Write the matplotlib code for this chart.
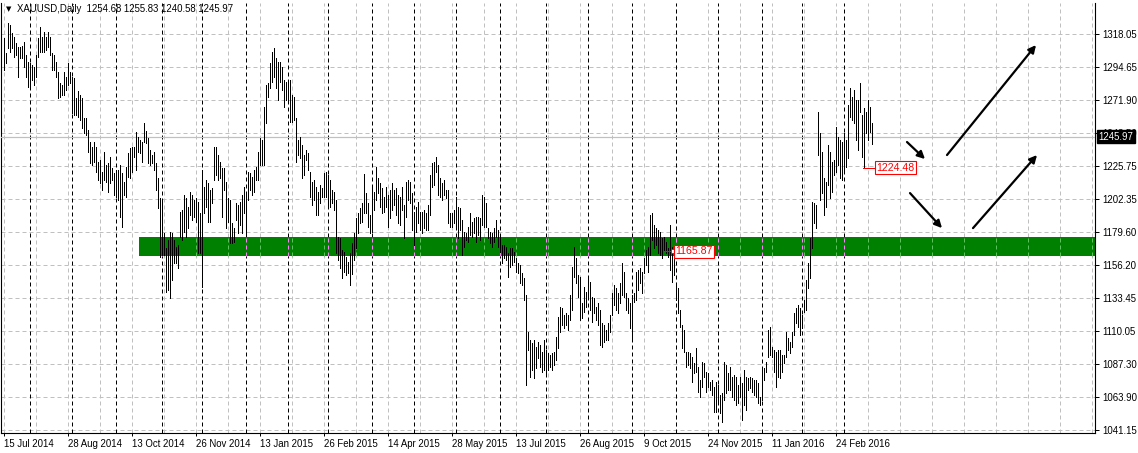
import matplotlib
matplotlib.use("Agg")
import matplotlib.pyplot as plt
import matplotlib.transforms as mtransforms
import numpy as np
import pandas as pd

# ---- dados (XAUUSD diário) ----
tick_labels = ["15 Jul 2014", "28 Aug 2014", "13 Oct 2014", "26 Nov 2014", "13 Jan 2015",
               "26 Feb 2015", "14 Apr 2015", "28 May 2015", "13 Jul 2015", "26 Aug 2015",
               "9 Oct 2015", "24 Nov 2015", "11 Jan 2016", "24 Feb 2016"]
price_ticks = [1318.05, 1294.65, 1271.90, 1248.50, 1225.75, 1202.35, 1179.60,
               1156.20, 1133.45, 1110.05, 1087.30, 1063.90, 1041.15]
holidays = ["2014-12-25", "2015-01-01", "2015-04-03", "2015-12-25", "2016-01-01"]

highs = [
    1314.8, 1304.3, 1325.3, 1324.1, 1318.3, 1316.0, 1311.3, 1309.0, 1309.0, 1309.7,
    1312.5, 1303.1, 1298.5, 1297.3, 1296.1, 1295.0, 1303.1, 1314.8, 1322.9, 1316.0,
    1319.4, 1316.0, 1319.4, 1316.0, 1304.3, 1303.1, 1298.5, 1291.5, 1283.3, 1282.1,
    1291.5, 1288.0, 1297.3, 1291.5, 1288.0, 1286.8, 1272.8, 1278.0, 1275.1, 1272.8,
    1258.8, 1258.8, 1250.7, 1242.5, 1239.0, 1242.5, 1239.0, 1228.5, 1229.7, 1221.5,
    1235.5, 1226.2, 1227.4, 1232.0, 1223.9, 1220.4, 1222.7, 1222.7, 1226.2, 1220.4,
    1214.6, 1225.0, 1234.4, 1237.9, 1239.0, 1239.0, 1249.5, 1246.0, 1243.7, 1242.5,
    1255.3, 1250.0, 1244.9, 1236.7, 1233.2, 1235.5, 1227.4, 1216.9, 1202.9, 1201.7,
    1178.4, 1167.9, 1173.8, 1179.6, 1178.4, 1173.8, 1169.1, 1170.3, 1193.6, 1194.8,
    1205.3, 1202.9, 1197.1, 1207.6, 1205.3, 1201.8, 1202.9, 1200.6, 1192.4, 1222.7,
    1211.1, 1215.7, 1213.4, 1208.8, 1209.9, 1239.1, 1239.1, 1233.2, 1228.6, 1223.9,
    1223.9, 1214.6, 1202.9, 1201.8, 1185.4, 1181.9, 1199.4, 1198.3, 1200.6, 1205.3,
    1211.1, 1207.6, 1221.6, 1220.4, 1218.1, 1222.7, 1225.1, 1235.6, 1244.9, 1243.7,
    1267.0, 1282.2, 1283.3, 1297.3, 1305.5, 1307.8, 1300.8, 1298.5, 1298.5, 1295.0,
    1285.7, 1284.5, 1285.7, 1285.7, 1275.2, 1274.0, 1258.9, 1243.7, 1246.1, 1240.2,
    1233.2, 1236.7, 1234.4, 1221.6, 1214.6, 1215.7, 1211.1, 1207.6, 1212.3, 1209.9,
    1220.4, 1221.6, 1219.2, 1215.7, 1208.8, 1207.6, 1201.8, 1176.1, 1174.9, 1166.8,
    1165.6, 1162.1, 1158.6, 1164.5, 1172.0, 1178.5, 1188.9, 1192.4, 1195.9, 1199.4,
    1219.7, 1206.4, 1199.4, 1191.3, 1211.1, 1207.6, 1225.1, 1216.9, 1213.4, 1209.9,
    1204.1, 1211.1, 1205.3, 1208.8, 1213.4, 1208.8, 1209.9, 1205.3, 1204.1, 1211.1,
    1198.3, 1214.6, 1215.8, 1214.6, 1206.4, 1193.6, 1197.1, 1200.6, 1193.6, 1193.6,
    1194.8, 1192.4, 1198.3, 1219.3, 1227.4, 1228.6, 1232.1, 1226.2, 1216.9, 1213.4,
    1215.8, 1208.8, 1208.8, 1192.4, 1192.4, 1194.8, 1204.1, 1197.1, 1195.9, 1187.8,
    1179.6, 1178.5, 1183.1, 1192.4, 1186.6, 1189.0, 1190.1, 1190.1, 1189.0, 1205.3,
    1204.1, 1199.4, 1182.0, 1179.6, 1178.5, 1182.0, 1187.8, 1180.8, 1177.3, 1170.3,
    1170.3, 1169.1, 1164.5, 1168.0, 1168.0, 1165.6, 1161.0, 1157.5, 1156.3, 1150.5,
    1147.0, 1135.3, 1109.7, 1103.9, 1101.5, 1103.9, 1099.2, 1102.7, 1100.4, 1095.7,
    1103.9, 1096.9, 1094.5, 1093.4, 1094.5, 1095.7, 1106.2, 1120.2, 1127.2, 1126.0,
    1121.3, 1122.5, 1121.3, 1135.3, 1155.2, 1169.1, 1161.0, 1149.3, 1148.2, 1129.5,
    1141.2, 1137.7, 1148.2, 1144.7, 1134.2, 1133.0, 1127.2, 1129.5, 1124.8, 1115.5,
    1114.4, 1110.9, 1115.5, 1121.3, 1136.5, 1142.3, 1140.0, 1136.5, 1143.5, 1157.5,
    1151.7, 1136.5, 1133.0, 1129.5, 1135.3, 1136.5, 1151.7, 1152.8, 1154.0, 1151.7,
    1161.0, 1166.8, 1169.1, 1191.3, 1192.4, 1184.3, 1182.0, 1180.8, 1179.6, 1175.0,
    1176.1, 1172.6, 1168.0, 1184.3, 1169.1, 1163.3, 1143.5, 1140.0, 1124.8, 1114.4,
    1110.9, 1095.7, 1095.7, 1094.5, 1092.2, 1087.5, 1098.0, 1085.2, 1075.9, 1088.7,
    1087.5, 1081.7, 1080.5, 1074.7, 1075.9, 1071.2, 1074.7, 1072.4, 1065.4, 1066.6,
    1088.7, 1086.4, 1080.5, 1085.2, 1078.2, 1079.4, 1078.2, 1072.4, 1078.2, 1073.5,
    1082.9, 1078.2, 1077.1, 1078.2, 1077.1, 1075.9, 1075.9, 1073.5, 1064.2, 1084.0,
    1084.0, 1088.7, 1110.8, 1113.2, 1099.2, 1096.9, 1095.7, 1096.9, 1096.9, 1093.4,
    1093.4, 1109.7, 1105.0, 1102.7, 1109.7, 1122.5, 1126.0, 1128.3, 1126.0, 1121.3,
    1131.8, 1145.8, 1157.5, 1175.0, 1200.6, 1199.4, 1198.3, 1263.5, 1248.4, 1235.6,
    1216.9, 1214.6, 1240.2, 1235.6, 1228.6, 1229.8, 1253.0, 1246.0, 1243.7, 1242.5,
    1248.4, 1243.7, 1268.2, 1279.8, 1274.0, 1278.7, 1271.7, 1271.7, 1283.3, 1261.2,
    1265.9, 1263.5, 1271.7, 1267.0, 1255.83,
]

lows = [
    1292.6, 1297.3, 1307.8, 1305.5, 1307.8, 1302.0, 1303.1, 1288.0, 1300.8, 1300.8,
    1295.0, 1288.0, 1281.0, 1279.8, 1285.6, 1282.1, 1288.0, 1302.0, 1305.5, 1305.5,
    1305.5, 1306.6, 1309.0, 1303.1, 1292.6, 1292.6, 1288.0, 1272.8, 1274.0, 1275.1,
    1275.1, 1278.7, 1282.1, 1283.3, 1262.3, 1261.2, 1261.2, 1260.0, 1257.7, 1251.9,
    1248.4, 1247.2, 1235.5, 1227.4, 1226.2, 1228.5, 1221.5, 1215.7, 1213.4, 1208.7,
    1215.7, 1214.6, 1207.6, 1213.4, 1215.7, 1205.2, 1204.1, 1201.7, 1190.1, 1183.1,
    1205.2, 1204.1, 1218.0, 1216.9, 1221.5, 1232.0, 1222.7, 1235.5, 1234.4, 1228.5,
    1242.5, 1241.4, 1227.4, 1226.2, 1227.4, 1222.7, 1208.7, 1195.9, 1162.1, 1163.3,
    1163.3, 1137.6, 1138.8, 1133.0, 1145.8, 1157.4, 1157.5, 1154.0, 1176.1, 1173.8,
    1179.6, 1176.1, 1182.0, 1191.3, 1187.8, 1190.1, 1186.6, 1164.5, 1164.5, 1141.2,
    1192.4, 1197.1, 1186.6, 1186.6, 1199.4, 1215.7, 1219.2, 1215.7, 1216.9, 1190.1,
    1208.8, 1181.9, 1186.6, 1171.4, 1171.4, 1172.6, 1187.8, 1178.4, 1184.3, 1178.4,
    1192.4, 1178.4, 1201.8, 1208.8, 1205.3, 1207.6, 1215.7, 1215.7, 1226.2, 1226.2,
    1226.2, 1255.4, 1274.0, 1279.9, 1284.5, 1288.0, 1279.9, 1271.7, 1284.5, 1278.7,
    1267.0, 1271.7, 1271.7, 1256.5, 1256.5, 1257.7, 1228.6, 1233.2, 1230.9, 1216.9,
    1219.2, 1229.7, 1222.7, 1204.1, 1198.3, 1201.8, 1191.3, 1191.3, 1199.4, 1204.1,
    1204.1, 1204.1, 1195.9, 1197.1, 1199.4, 1194.8, 1164.5, 1159.8, 1154.0, 1147.0,
    1151.6, 1149.3, 1150.5, 1142.3, 1150.0, 1159.8, 1168.0, 1178.5, 1185.4, 1186.6,
    1192.4, 1192.4, 1183.1, 1178.5, 1179.6, 1194.8, 1201.8, 1206.4, 1197.1, 1192.4,
    1193.6, 1197.1, 1183.1, 1189.0, 1194.8, 1198.3, 1191.3, 1185.4, 1184.3, 1194.8,
    1175.0, 1190.1, 1201.8, 1199.4, 1180.8, 1170.3, 1179.6, 1185.4, 1180.8, 1178.5,
    1182.0, 1180.8, 1180.8, 1191.3, 1211.1, 1212.3, 1221.6, 1205.3, 1204.1, 1201.8,
    1205.3, 1202.9, 1185.4, 1183.1, 1183.1, 1185.4, 1183.1, 1175.0, 1180.8, 1163.3,
    1169.1, 1173.8, 1172.6, 1177.3, 1176.1, 1178.5, 1172.6, 1177.3, 1173.8, 1184.3,
    1183.1, 1183.1, 1175.0, 1171.5, 1169.1, 1172.6, 1176.1, 1169.1, 1165.6, 1157.5,
    1161.0, 1159.8, 1148.2, 1155.1, 1156.3, 1158.6, 1151.7, 1150.5, 1143.5, 1142.3,
    1131.8, 1072.4, 1096.9, 1078.2, 1082.9, 1077.1, 1084.1, 1091.1, 1085.2, 1081.7,
    1082.9, 1080.6, 1082.9, 1085.2, 1082.9, 1086.4, 1089.9, 1098.0, 1109.7, 1114.4,
    1112.0, 1114.4, 1110.9, 1117.9, 1124.8, 1148.2, 1143.5, 1134.2, 1117.9, 1119.0,
    1123.7, 1127.2, 1133.0, 1124.8, 1116.7, 1122.5, 1117.9, 1114.4, 1100.4, 1099.2,
    1102.7, 1103.9, 1103.9, 1109.7, 1121.3, 1128.3, 1124.8, 1122.5, 1129.5, 1135.3,
    1134.2, 1124.8, 1122.5, 1112.0, 1105.0, 1130.7, 1131.8, 1138.8, 1143.5, 1136.5,
    1150.5, 1156.3, 1151.7, 1163.3, 1173.8, 1168.0, 1170.3, 1164.5, 1163.3, 1161.0,
    1166.8, 1164.5, 1162.1, 1152.8, 1144.7, 1149.3, 1131.8, 1122.5, 1113.2, 1098.0,
    1095.7, 1085.2, 1086.4, 1084.1, 1074.7, 1080.6, 1081.7, 1067.7, 1064.3, 1071.2,
    1078.2, 1067.7, 1071.2, 1068.9, 1065.4, 1053.7, 1053.7, 1059.6, 1052.6, 1046.7,
    1061.9, 1066.6, 1068.9, 1068.9, 1064.2, 1061.9, 1058.4, 1059.6, 1064.2, 1047.9,
    1058.4, 1054.9, 1068.9, 1070.0, 1067.7, 1065.4, 1064.2, 1059.6, 1058.4, 1061.9,
    1075.9, 1081.7, 1092.2, 1093.4, 1092.2, 1081.7, 1071.2, 1078.2, 1077.1, 1081.7,
    1087.5, 1092.2, 1096.9, 1094.5, 1099.2, 1107.4, 1115.5, 1113.2, 1107.4, 1112.0,
    1123.7, 1124.8, 1140.0, 1147.0, 1168.0, 1185.4, 1181.9, 1233.2, 1201.8, 1206.4,
    1191.3, 1197.1, 1212.2, 1202.9, 1207.6, 1219.2, 1221.6, 1226.2, 1216.9, 1215.8,
    1221.6, 1225.1, 1230.9, 1260.0, 1257.7, 1255.4, 1243.7, 1236.7, 1263.5, 1232.1,
    1224.48, 1248.4, 1243.7, 1249.5, 1240.58,
]

ohlc_last = [1254.68, 1255.83, 1240.58, 1245.97]
last_close = 1245.97
label_low = 1224.48
label_zone = 1165.87
zone_low, zone_high = 1162.5, 1175.9

# ---- figura ----
W, H = 1138, 453
plt.rcParams["font.family"] = ["Liberation Sans", "DejaVu Sans"]
fig = plt.figure(figsize=(W / 100, H / 100), dpi=100)
ax = fig.add_axes([1 / W, 20 / H, 1094 / W, 430 / H])

n = len(highs)
x = np.arange(n)
ax.set_xlim(-1.3, 545.7)
ax.set_ylim(1038.85, 1339.5)

datas = pd.bdate_range("2014-07-15", periods=n, freq="C", holidays=holidays)
inicio_mes = [i for i in range(1, n) if datas[i].month != datas[i - 1].month]

px = 0.72  # 1 pixel em pontos
grade = "#c0c0c0"

# grade cinza
for p in price_ticks:
    ax.axhline(p, color=grade, lw=px, ls=(0, (4, 3)), zorder=1)
for g in range(0, 546, 16):
    ax.axvline(g, color=grade, lw=px, ls=(0, (4, 3)), zorder=1)
# separadores mensais
for m in inicio_mes:
    ax.axvline(m, color="black", lw=px, ls=(0, (4, 3)), zorder=1)

# faixa verde de suporte
ax.fill_between([67.7, 546], zone_low, zone_high, color="#008000", lw=0, zorder=2)
for g in range(80, 546, 16):
    ax.vlines(g, zone_low, zone_high, color="#5cc05c", lw=px, ls=(0, (4, 3)), zorder=2.5)
for m in inicio_mes:
    if m > 68:
        ax.vlines(m, zone_low, zone_high, color="#ff80ff", lw=px, ls=(0, (4, 3)), zorder=2.5)

# linha do preço atual
ax.axhline(last_close, color="#c0c0c0", lw=px * 1.2, zorder=3)

# barras
ax.vlines(x, lows, highs, colors="black", lw=0.6, antialiased=False, zorder=4)

# rótulos de preço vermelhos
ax.plot([429.7, 435.5], [label_low, label_low], color="red", lw=px, zorder=5)
ax.text(436.3, label_low, "1224.48", color="red", fontsize=7.6, va="center", ha="left", zorder=6,
        bbox=dict(boxstyle="square,pad=0.12", fc="white", ec="red", lw=0.8))
ax.plot([329.7, 334.7], [label_zone, label_zone], color="red", lw=px, zorder=5)
ax.plot([334.7], [label_zone], marker="s", ms=2.5, mfc="white", mec="red", mew=0.6, zorder=5)
ax.text(336.0, label_zone, "1165.87", color="red", fontsize=7.6, va="center", ha="left", zorder=6,
        bbox=dict(boxstyle="square,pad=0.12", fc="white", ec="red", lw=0.8))

# setas
setas = [((451.7, 1242.3), (460.7, 1230.4)),
         ((471.7, 1233.2), (516.2, 1310.1)),
         ((453.2, 1206.6), (469.2, 1182.1)),
         ((484.7, 1182.1), (516.7, 1233.2))]
for ini, fim in setas:
    ax.annotate("", xy=fim, xytext=ini, zorder=6,
                arrowprops=dict(arrowstyle="-|>", color="black", lw=1.6,
                                mutation_scale=11, shrinkA=0, shrinkB=0))

# eixos
ax.yaxis.tick_right()
ax.set_yticks(price_ticks)
ax.set_yticklabels([f"{p:.2f}" for p in price_ticks])
ax.tick_params(axis="y", direction="out", length=3, width=px, pad=2, labelsize=6.9)
ax.set_xticks(range(0, 32 * len(tick_labels), 32))
ax.set_xticklabels(tick_labels, ha="left")
ax.tick_params(axis="x", direction="out", length=2, width=px, pad=2, labelsize=6.9)
for s in ax.spines.values():
    s.set_linewidth(0.8)
    s.set_color("black")
ax.spines["top"].set_visible(False)

# caixa do preço atual
trans = mtransforms.blended_transform_factory(ax.transAxes, ax.transData)
ax.text(1.003, last_close, "1245.97", transform=trans, color="white", fontsize=6.9,
        va="center", ha="left", zorder=7, clip_on=False,
        bbox=dict(boxstyle="square,pad=0.15", fc="black", ec="black"))

# cabeçalho
fig.text(6 / W, 1 - 9 / H, "\u25bc", fontsize=5, va="center", ha="left", family="DejaVu Sans")
fig.text(17 / W, 1 - 9 / H, "XAUUSD,Daily  " + " ".join(f"{v:.2f}" for v in ohlc_last),
         fontsize=6.9, va="center", ha="left")

fig.savefig("out.png", dpi=100)
